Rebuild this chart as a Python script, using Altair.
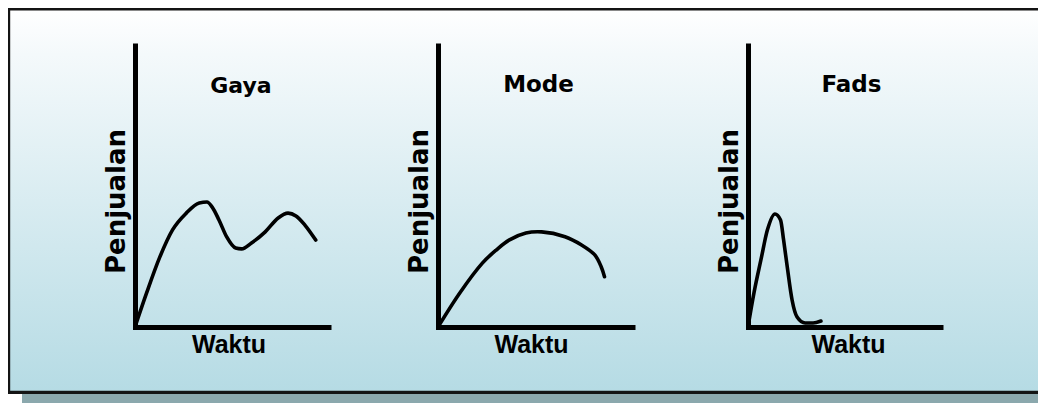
import altair as alt
import pandas as pd

# ---- chart content -------------------------------------------------------
titles = ["Gaya", "Mode", "Fads"]
x_label = "Waktu"
y_label = "Penjualan"

# time (0-100 along the x axis) and sales (0-100 along the y axis)
gaya_t = [0, 6, 12.8, 19.4, 26.5, 33.2, 37.2, 39.8, 43.4, 47.4, 52, 55.1, 60.2, 67.3, 74, 79.1, 83.2, 87.8, 93.4]
gaya_s = [0, 12, 24.6, 34.2, 40.1, 43.7, 44.0, 42.3, 37.7, 31.7, 27.8, 27.5, 29.6, 33.5, 38.4, 40.1, 39.1, 35.9, 30.6]

mode_t = [0, 11.2, 22.8, 29.9, 36.5, 45.2, 53.3, 65.3, 73.8, 80.6, 83.9, 85.6]
mode_s = [0, 12.0, 22.5, 27.1, 30.6, 33.1, 33.5, 31.8, 28.9, 25.4, 21.2, 17.7]

fads_t = [0, 3.1, 6.7, 10.1, 14.0, 16.9, 18.5, 20.4, 22.9, 25.5, 29.7, 33.8, 37.9]
fads_s = [0, 12.0, 23.6, 34.2, 39.8, 37.7, 30.6, 21.1, 9.5, 3.5, 1.4, 1.4, 2.1]

series = [(gaya_t, gaya_s), (mode_t, mode_s), (fads_t, fads_s)]

# ---- layout / style ------------------------------------------------------
H_BOX = 386
H_TOTAL = 395
Y_RANGE = [319, 35]
BORDER = "#141414"
SHADOW = "#8ba8ad"
GRAD = alt.Gradient(
    gradient="linear",
    stops=[alt.GradientStop(color="#ffffff", offset=0),
           alt.GradientStop(color="#f4f9fb", offset=0.12),
           alt.GradientStop(color="#b5dbe4", offset=1)],
    x1=0, x2=0, y1=0, y2=1,
)

layout = [
    dict(w=346, ext=1, ax=127, xend=320.5, tx=233, ty=77.5, tsize=22, wx=220.5, shadow0=14,
         left=True, interp="monotone"),
    dict(w=346, ext=1, ax=84, xend=278.5, tx=184.5, ty=77, tsize=23, wx=177, shadow0=0,
         left=False, interp="catmull-rom"),
    dict(w=338, ext=0, ax=48, xend=240.5, tx=151.5, ty=77, tsize=23, wx=148, shadow0=0,
         left=False, interp="monotone"),
]

one = alt.Data(values=[{"k": 0}])


def panel(i):
    L = layout[i]
    W = L["w"]
    WE = W + L["ext"]
    t, s = series[i]
    df = pd.DataFrame({"t": t, "s": s})

    shadow = alt.Chart(one).mark_rect(color=SHADOW).encode(
        x=alt.value(L["shadow0"]), x2=alt.value(WE),
        y=alt.value(H_BOX - 6), y2=alt.value(H_TOTAL))
    bg = alt.Chart(one).mark_rect(fill=GRAD, strokeWidth=0).encode(
        x=alt.value(0), x2=alt.value(WE),
        y=alt.value(0), y2=alt.value(H_BOX))
    top = alt.Chart(one).mark_rect(color=BORDER).encode(
        x=alt.value(0), x2=alt.value(WE), y=alt.value(0), y2=alt.value(2.5))
    bottom = alt.Chart(one).mark_rect(color=BORDER).encode(
        x=alt.value(0), x2=alt.value(WE), y=alt.value(382.8), y2=alt.value(386))
    layers = [shadow, bg, top, bottom]
    if L["left"]:
        layers.append(alt.Chart(one).mark_rect(color=BORDER).encode(
            x=alt.value(0), x2=alt.value(2.2), y=alt.value(0), y2=alt.value(H_BOX)))

    title = alt.Chart(alt.Data(values=[{"title": titles[i]}])).mark_text(
        font="DejaVu Sans", fontWeight="bold", fontSize=L["tsize"], color="black",
        align="center", baseline="middle",
    ).encode(text="title:N", x=alt.value(L["tx"]), y=alt.value(L["ty"]))
    layers.append(title)

    xaxis = alt.Axis(
        title=x_label, domain=True, domainColor="black", domainWidth=5, domainCap="square",
        ticks=False, labels=False, grid=False, offset=Y_RANGE[0] - H_TOTAL, zindex=1,
        titleX=L["wx"], titleY=5, titleAlign="center", titleBaseline="top",
        titleFont="Liberation Sans", titleFontSize=25, titleFontWeight="bold", titleColor="black",
    )
    yaxis = alt.Axis(
        title=y_label, domain=True, domainColor="black", domainWidth=5, domainCap="butt",
        ticks=False, labels=False, grid=False, offset=-L["ax"], zindex=1,
        titleX=-11, titleY=193, titleAngle=270, titleAlign="center", titleBaseline="alphabetic",
        titleFont="DejaVu Sans", titleFontSize=26, titleFontWeight="bold", titleColor="black",
    )
    curve = alt.Chart(df).mark_line(
        color="black", strokeWidth=3.6, interpolate=L["interp"], strokeCap="round"
    ).encode(
        x=alt.X("t:Q", scale=alt.Scale(domain=[0, 100], range=[L["ax"], L["xend"]], nice=False, zero=False), axis=xaxis),
        y=alt.Y("s:Q", scale=alt.Scale(domain=[0, 100], range=Y_RANGE, nice=False, zero=False), axis=yaxis),
    )
    layers.append(curve)
    return alt.layer(*layers).properties(width=W, height=H_TOTAL)


chart = alt.hconcat(panel(0), panel(1), panel(2), spacing=0, bounds="flush").resolve_scale(
    x="independent", y="independent"
).properties(padding=0).configure_view(stroke="transparent", strokeWidth=0)

chart.save("out.html", embed_options={"renderer": "svg", "actions": False})
